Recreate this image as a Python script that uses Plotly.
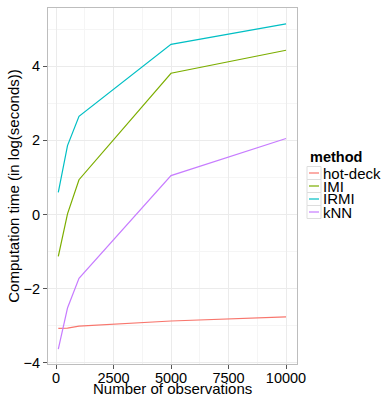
import plotly.graph_objects as go

n_obs = [100, 500, 1000, 5000, 10000]
methods = ["hot-deck", "IMI", "IRMI", "kNN"]
hot_deck = [-3.07, -3.06, -3.01, -2.87, -2.76]
imi = [-1.13, 0.02, 0.94, 3.81, 4.43]
irmi = [0.60, 1.86, 2.65, 4.59, 5.14]
knn = [-3.63, -2.52, -1.72, 1.05, 2.05]
series = [hot_deck, imi, irmi, knn]
colors = ["#F8766D", "#7CAE00", "#00BFC4", "#C77CFF"]

x_ticks = [0, 2500, 5000, 7500, 10000]
y_ticks = [-4, -2, 0, 2, 4]

W, H = 389, 397
L, R, T, B = 48, 92, 8, 33
PW, PH = W - L - R, H - T - B


def px(xp):
    return (xp - L) / PW


def py(yp):
    return (H - B - yp) / PH


fig = go.Figure()
for name, vals, c in zip(methods, series, colors):
    fig.add_trace(go.Scatter(x=n_obs, y=vals, mode="lines", name=name,
                             line=dict(color=c, width=1.2), showlegend=False))

font = "Liberation Sans, Arial, Helvetica, sans-serif"
annotations = [dict(text="<b>method</b>", x=px(309), y=py(157), xref="paper", yref="paper",
                    xanchor="left", yanchor="middle", showarrow=False, borderpad=0,
                    font=dict(size=14.5, color="black")),
               dict(text="Number of observations", x=px(172), y=py(388.5), xref="paper", yref="paper",
                    xanchor="center", yanchor="middle", showarrow=False, borderpad=0,
                    font=dict(size=15, color="black"))]
shapes = []
for i, (name, c) in enumerate(zip(methods, colors)):
    yc = 173 + 13 * i
    shapes.append(dict(type="rect", xref="paper", yref="paper",
                       x0=px(307), x1=px(321), y0=py(yc - 6.5), y1=py(yc + 6.5),
                       line=dict(color="#DDDDDD", width=1), fillcolor="white", layer="above"))
    shapes.append(dict(type="line", xref="paper", yref="paper",
                       x0=px(309), x1=px(319), y0=py(yc), y1=py(yc),
                       line=dict(color=c, width=1.2), layer="above"))
    annotations.append(dict(text=name, x=px(322), y=py(yc), xref="paper", yref="paper",
                            xanchor="left", yanchor="middle", showarrow=False, borderpad=0,
                            font=dict(size=15, color="black")))

fig.update_layout(
    width=W, height=H,
    margin=dict(l=L, r=R, t=T, b=B, autoexpand=False),
    paper_bgcolor="white", plot_bgcolor="white",
    font=dict(family=font, size=14, color="black"),
    showlegend=False,
    annotations=annotations, shapes=shapes,
)
fig.update_xaxes(
    range=[-348, 10478], tickvals=x_ticks, ticktext=[str(v) for v in x_ticks],
    showgrid=True, gridcolor="#EBEBEB", gridwidth=1,
    minor=dict(tickvals=[1250, 3750, 6250, 8750], showgrid=True, gridcolor="#F5F5F5", gridwidth=0.5),
    zeroline=False, showline=True, linecolor="#BDBDBD", linewidth=1, mirror=True,
    ticks="outside", ticklen=4, tickcolor="#555555", ticklabelstandoff=-3,
    tickfont=dict(size=14.5, color="black"), automargin=False,
)
fig.update_yaxes(
    range=[-4.03, 5.57], tickvals=y_ticks,
    showgrid=True, gridcolor="#EBEBEB", gridwidth=1,
    minor=dict(tickvals=[-3, -1, 1, 3, 5], showgrid=True, gridcolor="#F5F5F5", gridwidth=0.5),
    zeroline=False, showline=True, linecolor="#BDBDBD", linewidth=1, mirror=True,
    ticks="outside", ticklen=4, tickcolor="#555555",
    tickfont=dict(size=14.5, color="black"), automargin=False,
    title=dict(text="Computation time (in log(seconds))", font=dict(size=15), standoff=0),
)
fig.write_html("out.html", config={"displayModeBar": False},
               post_script="document.body.style.margin='0';")
